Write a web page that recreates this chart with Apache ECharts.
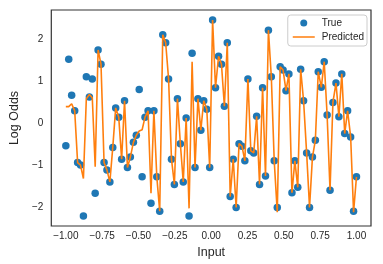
<!DOCTYPE html>
<html>
<head>
<meta charset="utf-8">
<script src="https://cdn.jsdelivr.net/npm/echarts@6/dist/echarts.min.js"></script>
<style>
html,body{margin:0;padding:0;background:#fff;}
#chart{width:383px;height:264px;}
</style>
</head>
<body>
<div id="chart"></div>
<script>
const xValues = [
-1.000,-0.980,-0.960,-0.939,-0.919,-0.899,-0.879,-0.859,-0.838,-0.818,
-0.798,-0.778,-0.758,-0.737,-0.717,-0.697,-0.677,-0.657,-0.636,-0.616,
-0.596,-0.576,-0.556,-0.535,-0.515,-0.495,-0.475,-0.455,-0.434,-0.414,
-0.394,-0.374,-0.354,-0.333,-0.313,-0.293,-0.273,-0.253,-0.232,-0.212,
-0.192,-0.172,-0.152,-0.131,-0.111,-0.091,-0.071,-0.051,-0.030,-0.010,
0.010,0.030,0.051,0.071,0.091,0.111,0.131,0.152,0.172,0.192,
0.212,0.232,0.253,0.273,0.293,0.313,0.333,0.354,0.374,0.394,
0.414,0.434,0.455,0.475,0.495,0.515,0.535,0.556,0.576,0.596,
0.616,0.636,0.657,0.677,0.697,0.717,0.737,0.758,0.778,0.798,
0.818,0.838,0.859,0.879,0.899,0.919,0.939,0.960,0.980,1.000
];
const trueValues = [
-0.54, 1.52, 0.66, 0.29, -0.94, -1.00, -2.21, 1.10, 0.62, 1.05,
-1.67, 1.74, 1.40, -0.94, -1.12, -1.40, -0.58, 0.36, 0.14, -0.86,
0.53, -1.06, -0.81, -0.46, -0.29, 0.80, -1.28, 0.14, 0.29, -1.91,
0.29, -1.28, -2.10, 2.10, 1.91, 1.05, -0.86, -1.46, 0.58, -0.49,
-1.40, 0.12, -2.21, 1.66, -1.06, 0.58, -0.17, 0.53, 0.33, -1.06,
2.45, 0.84, 1.59, 1.40, 0.40, 1.91, -1.75, -0.86, -2.01, -0.49,
-0.55, -0.90, 1.05, -0.66, -0.71, 0.16, -1.46, 0.84, -1.26, 2.21,
1.10, -0.90, -2.01, 1.34, 1.26, 0.77, 1.17, -1.66, -0.90, -1.53,
1.28, 0.53, -0.71, -2.01, -0.81, -0.41, 1.22, 0.85, 1.46, 0.19,
-1.60, 0.49, 0.95, 0.15, 1.17, -0.25, 0.29, -0.33, -2.10, -1.28
];
const predictedValues = [
0.39, 0.39, 0.46, 0.29, -0.94, -1.00, -1.32, 0.58, 0.68, 0.60,
-1.04, 1.74, 1.40, -0.94, -1.12, -1.40, -0.58, 0.36, 0.14, -0.86,
0.53, -1.06, -0.81, -0.46, -0.29, -0.19, -0.16, 0.14, 0.29, -1.67,
0.29, -1.28, -2.10, 2.10, 1.91, 1.05, -0.86, -1.46, 0.58, -0.49,
-1.40, 0.12, -2.03, 1.46, -1.06, 0.58, -0.17, 0.53, 0.33, -1.06,
2.45, 0.84, 1.59, 1.40, 0.40, 1.91, -1.75, -0.86, -2.01, -0.49,
-0.55, -0.90, 1.05, -0.66, -0.71, 0.16, -1.46, 0.84, -1.26, 2.21,
1.10, -0.90, -2.12, 1.34, 1.26, 0.77, 1.17, -1.66, -0.90, -1.53,
1.28, 0.53, -0.71, -2.01, -0.81, -0.41, 1.22, 0.85, 1.46, 0.19,
-1.60, 0.49, 0.95, 0.15, 1.17, -0.25, 0.29, -0.33, -2.12, -1.28
];
const xTicks = [-1.00, -0.75, -0.50, -0.25, 0.00, 0.25, 0.50, 0.75, 1.00];
const yTicks = [-2, -1, 0, 1, 2];
const seriesNames = ['True', 'Predicted'];
const axisNames = {x: 'Input', y: 'Log Odds'};

const FONT = '"Liberation Sans", Arial, sans-serif';
const TXT = '#262626';
const minus = s => s.replace('-', '\u2212');
// plain line legend icon (degenerate corner subpaths keep the bounding box at 22x7)
const LINE_ICON = 'path://M0,0L0,0ZM0,2.7L22,2.7L22,4.3L0,4.3ZM22,7L22,7Z';

const chart = echarts.init(document.getElementById('chart'), null, {renderer: 'canvas'});
chart.setOption({
  animation: false,
  backgroundColor: '#ffffff',
  textStyle: {fontFamily: FONT},
  grid: {left: 41, right: 12, top: 10, bottom: 38, show: true, borderColor: '#333333', borderWidth: 1.2, backgroundColor: '#ffffff'},
  legend: {
    orient: 'vertical', right: 16, top: 15,
    itemWidth: 22, itemHeight: 7, itemGap: 2,
    padding: [2, 3, 3, 5],
    borderColor: '#cccccc', borderWidth: 1, borderRadius: 3,
    backgroundColor: 'rgba(255,255,255,0.8)',
    textStyle: {fontFamily: FONT, fontSize: 10, color: TXT, lineHeight: 12, padding: [0,0,0,2]},
    data: [
      {name: seriesNames[0], icon: 'circle'},
      {name: seriesNames[1], icon: LINE_ICON, itemStyle: {color: '#ff7f0e', borderWidth: 0}}
    ]
  },
  xAxis: {
    type: 'value', min: -1.1, max: 1.1,
    name: axisNames.x, nameLocation: 'middle', nameGap: 17,
    nameTextStyle: {fontFamily: FONT, fontSize: 12.5, color: TXT},
    axisLine: {show: false}, axisTick: {show: false}, splitLine: {show: false},
    axisLabel: {customValues: xTicks, margin: 5, fontFamily: FONT, fontSize: 10, color: TXT,
      formatter: v => minus((Math.abs(v) < 1e-9 ? 0 : v).toFixed(2))}
  },
  yAxis: {
    type: 'value', min: -2.45, max: 2.69,
    name: axisNames.y, nameLocation: 'middle', nameGap: 22,
    nameTextStyle: {fontFamily: FONT, fontSize: 12.5, color: TXT},
    axisLine: {show: false}, axisTick: {show: false}, splitLine: {show: false},
    axisLabel: {customValues: yTicks, margin: 8, fontFamily: FONT, fontSize: 10, color: TXT,
      formatter: v => minus(String(Math.round(v)))}
  },
  series: [
    {
      name: seriesNames[0], type: 'scatter', symbolSize: 7.5, z: 2,
      itemStyle: {color: '#1f77b4', opacity: 1},
      data: xValues.map((x, i) => [x, trueValues[i]])
    },
    {
      name: seriesNames[1], type: 'line', symbol: 'none', showSymbol: false, z: 3,
      lineStyle: {color: '#ff7f0e', width: 1.6},
      itemStyle: {color: '#ff7f0e'},
      data: xValues.map((x, i) => [x, predictedValues[i]])
    }
  ]
});
</script>
</body>
</html>
